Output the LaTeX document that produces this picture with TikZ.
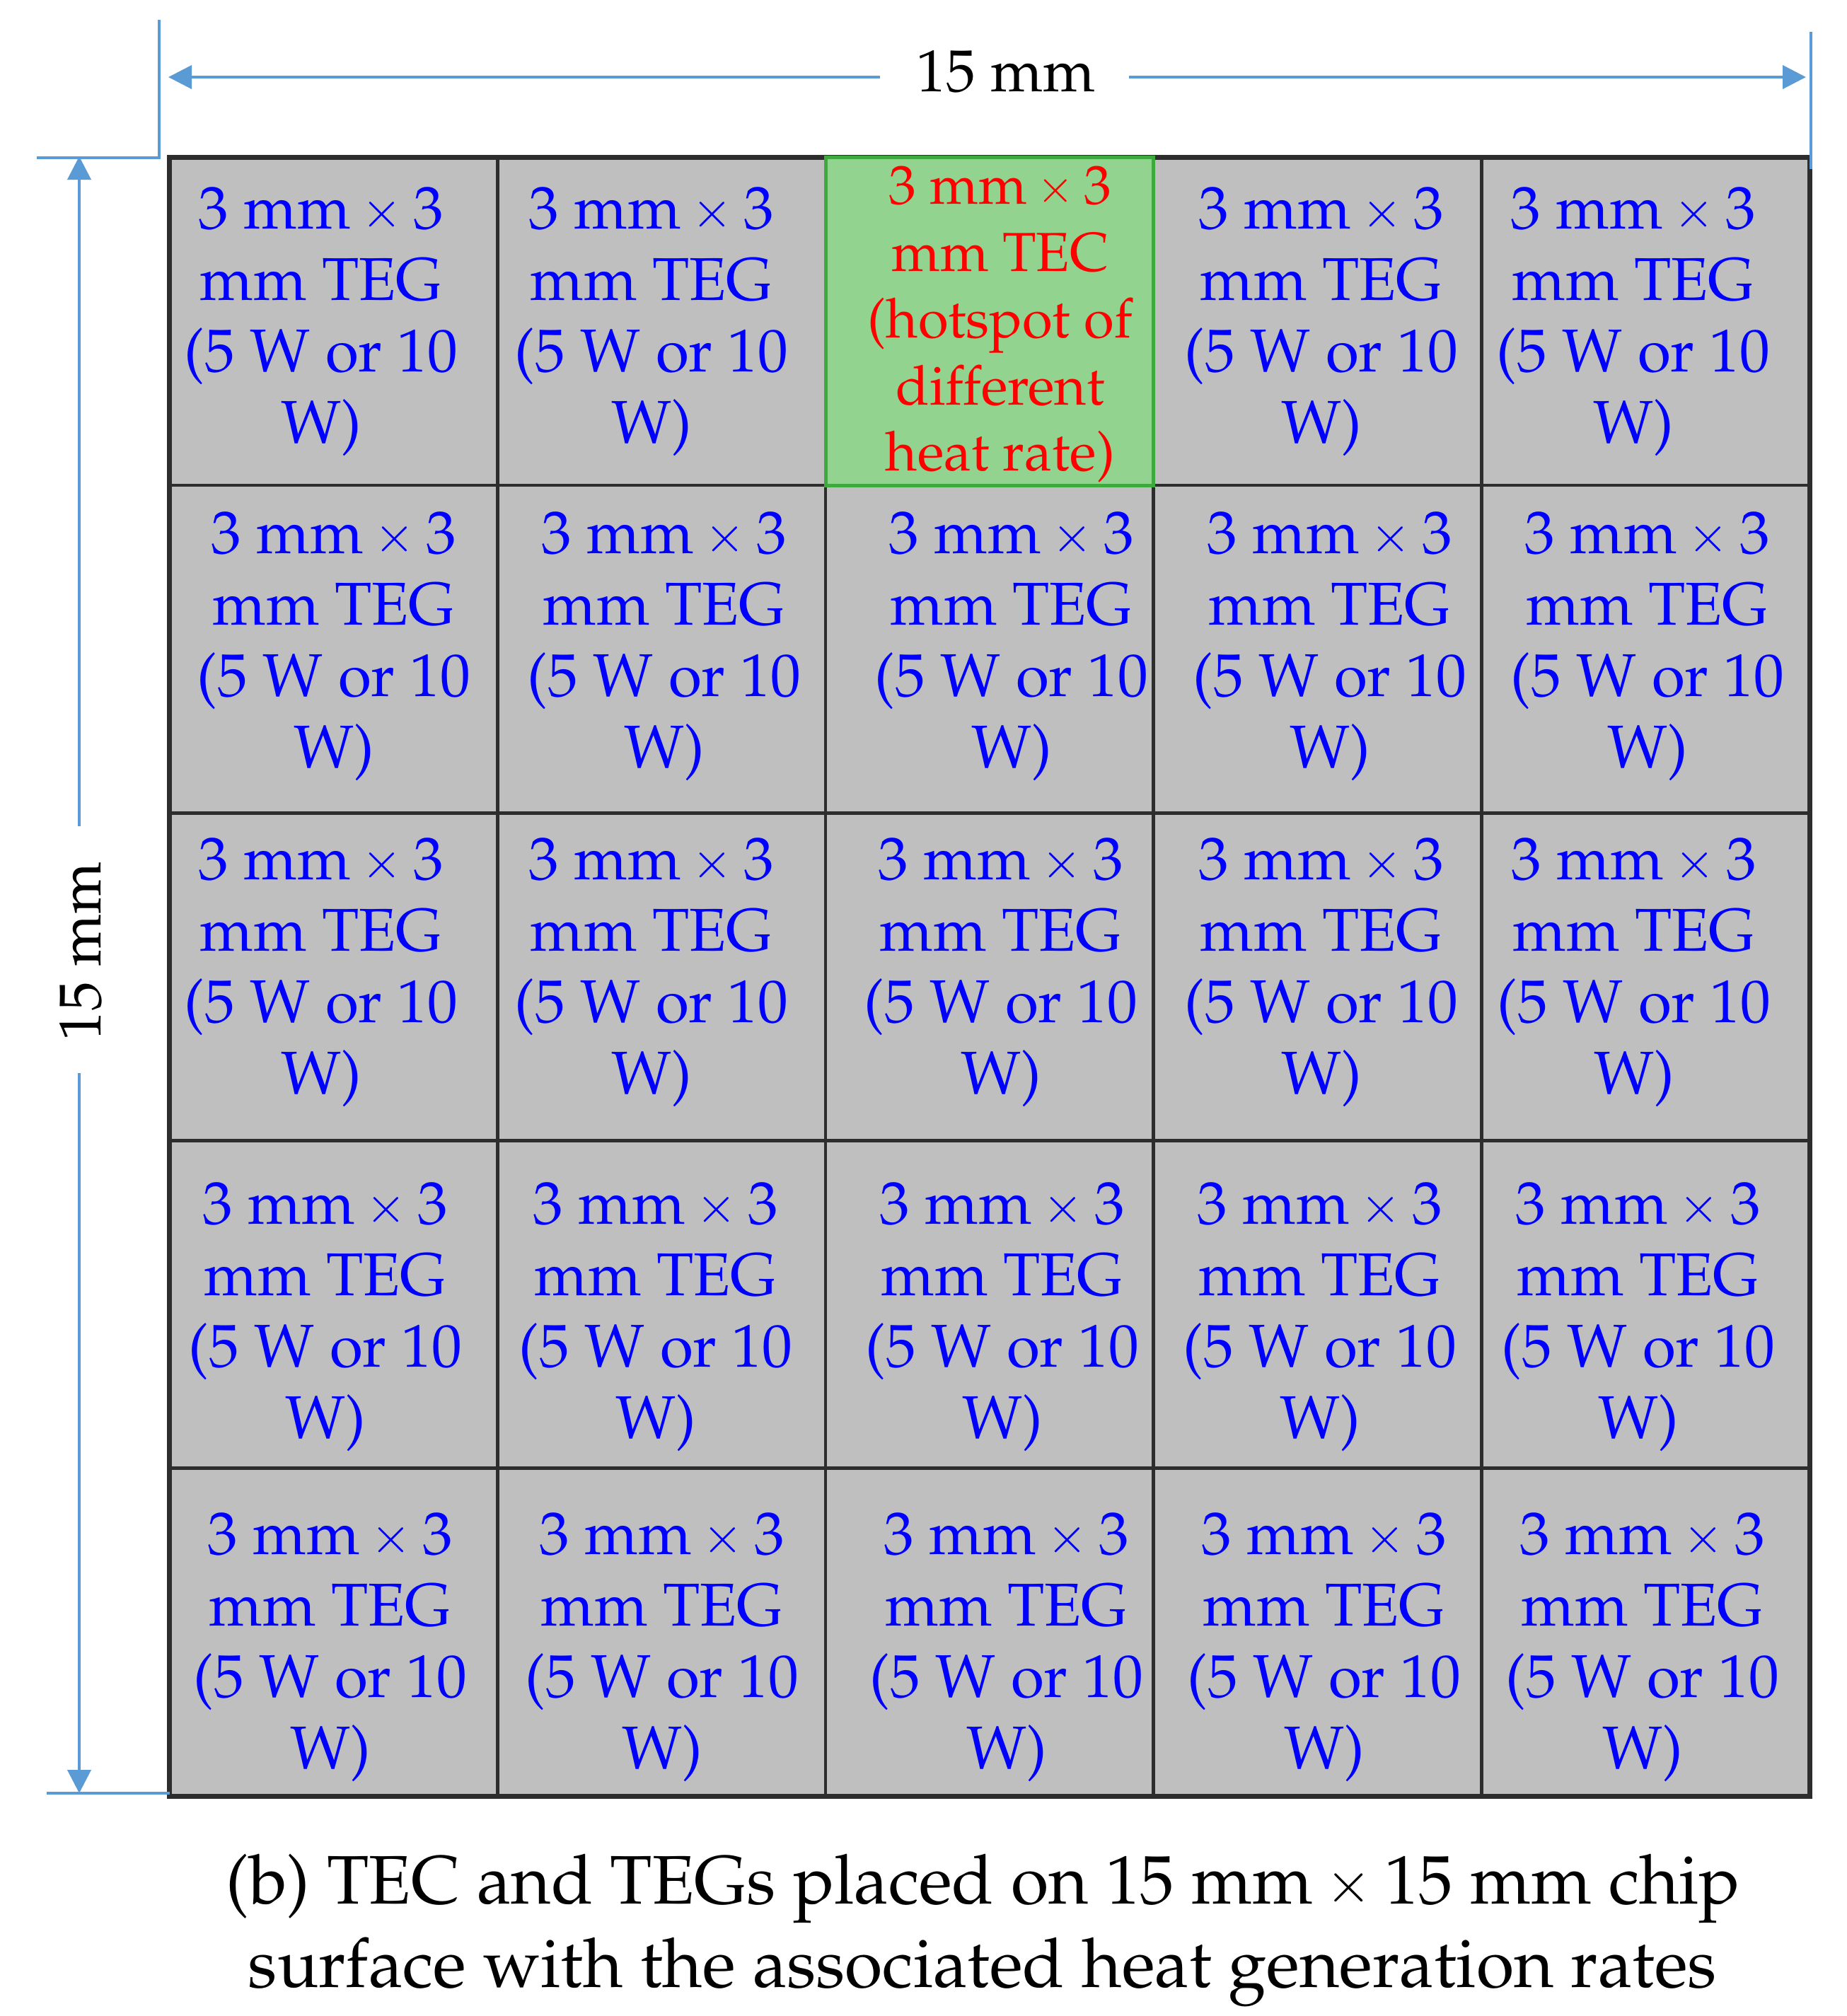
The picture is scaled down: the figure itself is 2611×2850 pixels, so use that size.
\documentclass[tikz,border=0pt]{standalone}
\usepackage[T1]{fontenc}
\usepackage{mathpazo}
\usepackage{graphicx}
\usetikzlibrary{arrows.meta}
\definecolor{dimblue}{RGB}{91,155,213}
\definecolor{cellgray}{RGB}{191,191,191}
\definecolor{gridline}{RGB}{45,45,45}
\definecolor{tecfill}{RGB}{146,211,143}
\definecolor{tecedge}{RGB}{60,170,60}
\definecolor{txtblue}{RGB}{0,0,255}
\definecolor{txtred}{RGB}{255,0,0}
\newcommand\tms{\hspace{0.18em}\raisebox{0.02em}{\scalebox{0.82}{$\times$}}\hspace{0.18em}}
\tikzset{
 cellbox/.style={draw=gridline, line width=0.045cm, fill=cellgray, minimum width=4.636cm, minimum height=4.632cm, inner sep=0pt, outer sep=0pt},
 tecbox/.style={cellbox, draw=tecedge, line width=0.05cm, fill=tecfill},
 tegtext/.style={text=txtblue, font=\fontsize{24.3}{28}\selectfont, anchor=base, inner sep=0pt},
 tectext/.style={text=txtred, font=\fontsize{22.1}{26}\selectfont, anchor=base, inner sep=0pt},
 dimline/.style={draw=dimblue, line width=0.04cm},
 dimarrow/.style={dimline, -{Triangle[length=0.33cm,width=0.33cm]}},
 dimtext/.style={font=\fontsize{23.8}{28}\selectfont, anchor=base, inner sep=0pt},
 captext/.style={font=\fontsize{27.6}{32}\selectfont, anchor=base, inner sep=0pt},
}
\newcommand\tegcell[4]{%
 \node[tegtext] (t#1#2a) at (#3,#4) {3 mm\tms3};
 \node[tegtext] (t#1#2b) at (#3,#4+101) {mm TEG};
 \node[tegtext] (t#1#2c) at (#3,#4+202) {(5 W or 10};
 \node[tegtext] (t#1#2d) at (#3,#4+303) {W)};
}
\begin{document}
\begin{tikzpicture}[x=0.01cm,y=-0.01cm]
\fill[white] (0,0) rectangle (2611,2850);
\useasboundingbox (0,0) rectangle (2611,2850);
% grid cells
\foreach \r in {1,...,5}{
 \foreach \c in {1,...,5}{
  \node[cellbox] (c\r\c) at ({240+463.6*(\c-0.5)},{223+463.2*(\r-0.5)}) {};
 }
}
\draw[gridline, line width=0.07cm] (c11.north west) rectangle (c55.south east);
\node[tecbox] (tec) at ({240+463.6*2.5},{223+463.2*0.5}) {};
% TEC text
\node[tectext] (r1) at (1414,288) {3 mm\tms3};
\node[tectext] (r2) at (1414,383) {mm TEC};
\node[tectext] (r3) at (1414,477) {(hotspot of};
\node[tectext] (r4) at (1414,572) {different};
\node[tectext] (r5) at (1414,665) {heat rate)};
% TEG texts
\tegcell{1}{1}{454}{323}
\tegcell{1}{2}{921}{323}
\tegcell{1}{4}{1868}{323}
\tegcell{1}{5}{2309}{323}
\tegcell{2}{1}{472}{782}
\tegcell{2}{2}{939}{782}
\tegcell{2}{3}{1430}{782}
\tegcell{2}{4}{1880}{782}
\tegcell{2}{5}{2329}{782}
\tegcell{3}{1}{454}{1243}
\tegcell{3}{2}{921}{1243}
\tegcell{3}{3}{1415}{1243}
\tegcell{3}{4}{1868}{1243}
\tegcell{3}{5}{2310}{1243}
\tegcell{4}{1}{460}{1730}
\tegcell{4}{2}{927}{1730}
\tegcell{4}{3}{1417}{1730}
\tegcell{4}{4}{1866}{1730}
\tegcell{4}{5}{2316}{1730}
\tegcell{5}{1}{467}{2197}
\tegcell{5}{2}{936}{2197}
\tegcell{5}{3}{1423}{2197}
\tegcell{5}{4}{1872}{2197}
\tegcell{5}{5}{2322}{2197}
% horizontal dimension
\coordinate (ea) at (225,28);
\coordinate (eb) at (225,223);
\coordinate (ec) at (52,223);
\coordinate (ed) at (2560,45);
\coordinate (ee) at (2560,239);
\coordinate (ef) at (66,2535);
\coordinate (eg) at (240,2535);
\draw[dimline] (ea) -- (eb) -- (ec);
\draw[dimline] (ed) -- (ee);
\draw[dimline] (ef) -- (eg);
\node[dimtext] (htxt) at (1422,129) {15 mm};
\coordinate (hl) at (238,109);
\coordinate (hr) at (2553,109);
\coordinate (hgl) at (1244,109);
\coordinate (hgr) at (1596,109);
\draw[dimarrow] (hgl) -- (hl);
\draw[dimarrow] (hgr) -- (hr);
% vertical dimension
\node[dimtext, rotate=90] (vtxt) at (143,1345) {15 mm};
\coordinate (vt) at (112,221);
\coordinate (vb) at (112,2535);
\coordinate (vgt) at (112,1168);
\coordinate (vgb) at (112,1517);
\draw[dimarrow] (vgt) -- (vt);
\draw[dimarrow] (vgb) -- (vb);
% caption
\node[captext] (cap1) at (1390,2691) {(b) TEC and TEGs placed on 15 mm\tms15 mm chip};
\node[captext] (cap2) at (1389,2809) {surface with the associated heat generation rates};
\end{tikzpicture}
\end{document}
